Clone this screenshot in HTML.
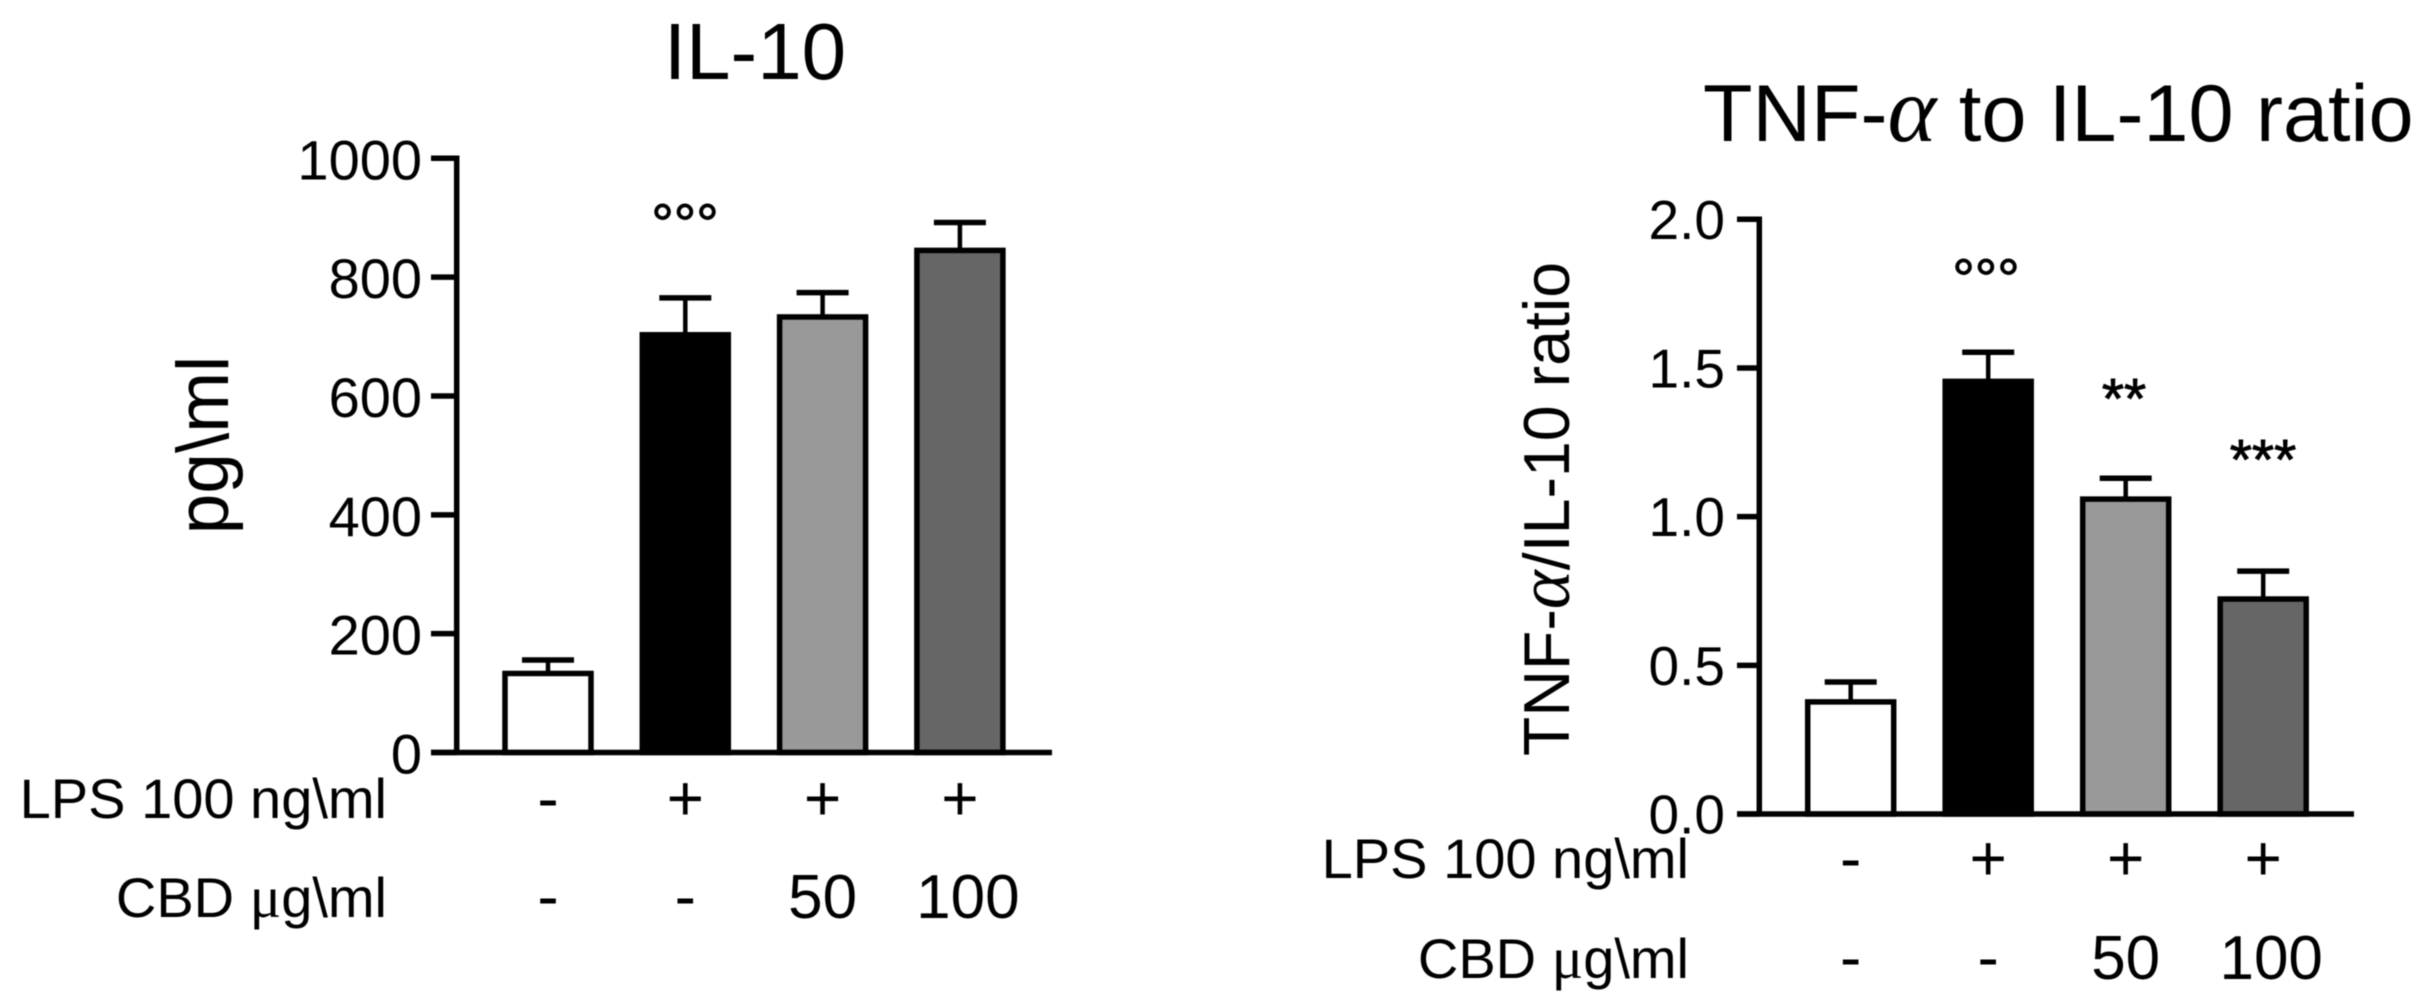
<!DOCTYPE html>
<html lang="en">
<head>
<meta charset="utf-8">
<title>IL-10 and TNF-α to IL-10 ratio</title>
<style>
html,body{margin:0;padding:0;background:#fff;width:2420px;height:1007px;overflow:hidden}
svg{display:block;filter:blur(0.6px)}
text{font-family:"Liberation Sans",sans-serif;fill:#000}
.sym{font-family:"Liberation Serif","DejaVu Serif",serif;font-style:italic;font-size:1.15em}
.sym-mu{font-family:"Liberation Serif","DejaVu Serif",serif;font-size:1.05em}
.mark{stroke:#000;stroke-width:0.9}
</style>
</head>
<body>
<svg id="figure" xmlns="http://www.w3.org/2000/svg" width="2420" height="1007" viewBox="0 0 2420 1007">
  <rect width="2420" height="1007" fill="#fff"/>
  <text x="755" y="79" font-size="80" text-anchor="middle">IL-10</text>
  <text transform="translate(228 445) rotate(-90)" font-size="73" text-anchor="middle">pg\ml</text>
  <text x="387" y="818" font-size="56" text-anchor="end">LPS 100 ng\ml</text>
  <text x="387" y="917" font-size="56" text-anchor="end">CBD <tspan class="sym-mu">μ</tspan>g\ml</text>
  <text class="mark" x="685" y="243" font-size="56" text-anchor="middle">°°°</text>

  <text x="1703" y="141" font-size="81">TNF-<tspan class="sym">α</tspan> to IL-10 ratio</text>
  <text transform="translate(1569 509) rotate(-90)" font-size="64.5" text-anchor="middle">TNF-<tspan class="sym">α</tspan>/IL-10 ratio</text>
  <text x="1689" y="878" font-size="56" text-anchor="end">LPS 100 ng\ml</text>
  <text x="1689" y="978" font-size="56" text-anchor="end">CBD <tspan class="sym-mu">μ</tspan>g\ml</text>
  <text class="mark" x="1986" y="298" font-size="56" text-anchor="middle">°°°</text>
  <text class="mark" x="2124" y="418" font-size="57" text-anchor="middle">**</text>
  <text class="mark" x="2263" y="479" font-size="57" text-anchor="middle">***</text>
</svg>
<script>
const groups = ['control', 'lps', 'lps-cbd50', 'lps-cbd100'];
const lpsRow = ['-', '+', '+', '+'];
const cbdRow = ['-', '-', '50', '100'];

const il10Values = [133, 703, 733, 845];
const il10Errors = [22.7, 62, 41, 47];
const il10Ticks = [0, 200, 400, 600, 800, 1000];
const il10TickLabels = ['0', '200', '400', '600', '800', '1000'];

const ratioValues = [0.377, 1.455, 1.059, 0.723];
const ratioErrors = [0.067, 0.098, 0.07, 0.094];
const ratioTicks = [0, 0.5, 1, 1.5, 2];
const ratioTickLabels = ['0.0', '0.5', '1.0', '1.5', '2.0'];

const barFills = ['#ffffff', '#000000', '#999999', '#666666'];

const SVG_NS = 'http://www.w3.org/2000/svg';
const figure = document.getElementById('figure');

function make(tag, attrs) {
  const el = document.createElementNS(SVG_NS, tag);
  Object.keys(attrs).forEach(function (k) { el.setAttribute(k, attrs[k]); });
  figure.appendChild(el);
  return el;
}

function drawChart(prefix, layout, values, errors, ticks, tickLabels) {
  const yMax = ticks[ticks.length - 1];
  const y = function (v) { return layout.y0 + (layout.yTop - layout.y0) * v / yMax; };
  const x = function (i) { return layout.x0 + layout.step * i; };

  values.forEach(function (v, i) {
    const cx = x(i);
    const stem = make('line', { x1: cx, x2: cx, y1: y(v), y2: y(v + errors[i]), stroke: '#000', 'stroke-width': 4.5 });
    
    
    const cap = make('line', { x1: cx - 26, x2: cx + 26, y1: y(v + errors[i]), y2: y(v + errors[i]), stroke: '#000', 'stroke-width': 5.5 });
    
    
    const bar = make('rect', { x: cx - 43, y: y(v), width: 86, height: layout.y0 - y(v), fill: barFills[i], stroke: '#000', 'stroke-width': 5.5 });
    
    
  });

  const yAxis = make('line', { x1: layout.axisX, x2: layout.axisX, y1: y(yMax) - 2.75, y2: layout.y0, stroke: '#000', 'stroke-width': 5.5 });
  
  
  const xAxis = make('line', { x1: layout.tickLeft, x2: layout.axisEnd, y1: layout.y0, y2: layout.y0, stroke: '#000', 'stroke-width': 5.5 });
  
  

  ticks.forEach(function (t, i) {
    const mark = make('line', { x1: layout.tickLeft, x2: layout.axisX, y1: y(t), y2: y(t), stroke: '#000', 'stroke-width': 5.5 });
    
    
    const label = make('text', { x: layout.labelRight, y: y(t) + layout.tickDy, 'font-size': layout.tickFont, 'text-anchor': 'end' });
    label.textContent = tickLabels[i];
    
    
  });

  lpsRow.forEach(function (s, i) {
    const t = make('text', { x: x(i), y: layout.row1, 'font-size': 64, 'text-anchor': 'middle' });
    t.textContent = s;
    
    
  });
  cbdRow.forEach(function (s, i) {
    const isNumber = s !== '-';
    const t = make('text', { x: x(i) + (s === '100' ? 8 : 0), y: layout.row2, 'font-size': isNumber ? 62 : 64, 'text-anchor': 'middle' });
    t.textContent = s;
    
    
  });
}

drawChart('il10', { x0: 548, step: 137.3, y0: 752.5, yTop: 158.3, axisX: 456.7, tickLeft: 431, axisEnd: 1052, labelRight: 422, tickDy: 21, tickFont: 56, row1: 820, row2: 918 },
  il10Values, il10Errors, il10Ticks, il10TickLabels);
drawChart('ratio', { x0: 1850.7, step: 137.5, y0: 814, yTop: 219.3, axisX: 1759.3, tickLeft: 1737, axisEnd: 2354, labelRight: 1725, tickDy: 19.5, tickFont: 55, row1: 880, row2: 979 },
  ratioValues, ratioErrors, ratioTicks, ratioTickLabels);
</script>
</body>
</html>
